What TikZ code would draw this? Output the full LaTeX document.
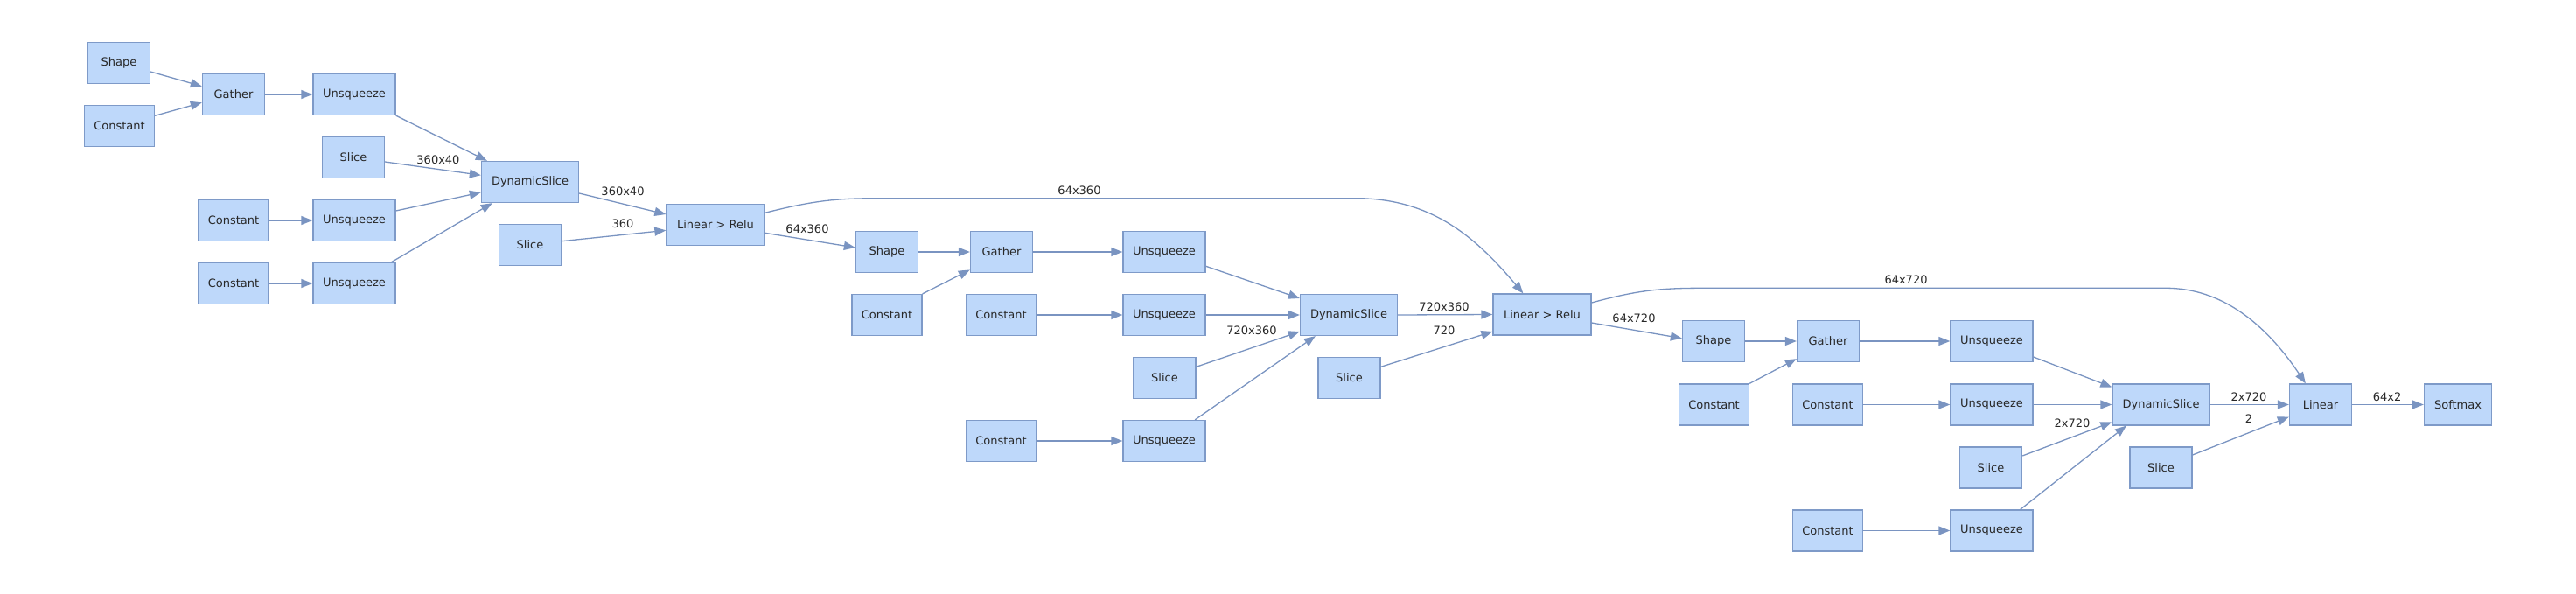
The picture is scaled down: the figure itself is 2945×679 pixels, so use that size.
\documentclass[tikz,border=0pt]{standalone}
\usepackage{fontspec}
\setmainfont{DejaVu Sans}
\usetikzlibrary{arrows.meta}
\definecolor{boxfill}{RGB}{190,216,250}
\definecolor{boxline}{RGB}{126,154,200}
\definecolor{edgecol}{RGB}{122,148,193}
\definecolor{txt}{RGB}{40,40,40}
\tikzset{
  op/.style={rectangle, draw=boxline, fill=boxfill, line width=1.3pt, minimum height=47pt, inner sep=0pt, text=txt, font=\fontsize{13}{15}\selectfont},
  w72/.style={op, minimum width=71pt},
  w78/.style={op, minimum width=77pt},
  w81/.style={op, minimum width=80pt},
  w95/.style={op, minimum width=94pt},
  w112/.style={op, minimum width=111pt},
  w113/.style={op, minimum width=112pt},
  edge/.style={draw=edgecol, line width=1.3pt, -{Triangle[length=13pt,width=10pt]}},
  lbl/.style={text=txt, inner sep=0pt, font=\fontsize{13}{15}\selectfont}
}
\begin{document}
\begin{tikzpicture}[x=1pt,y=-1pt]
\useasboundingbox (0,0) rectangle (2945,679);
% ---- section 1
\node[w72] (s1) at (136,72) {Shape};
\node[w81] (c1) at (136.5,143.7) {Constant};
\node[w72] (g1) at (267,108) {Gather};
\node[w95] (u1) at (405,108) {Unsqueeze};
\node[w72] (sl1) at (404,180) {Slice};
\node[w112] (ds1) at (606,208) {DynamicSlice};
\node[w81] (c2) at (267,252) {Constant};
\node[w95] (u2) at (405,252) {Unsqueeze};
\node[w81] (c3) at (267,324) {Constant};
\node[w95] (u3) at (405,324) {Unsqueeze};
\node[w72] (sl2) at (606,280) {Slice};
\node[w113] (lr1) at (818,257) {Linear > Relu};
% ---- section 2
\node[w72] (s2) at (1014,288) {Shape};
\node[w72] (g2) at (1145,288) {Gather};
\node[w95] (u4) at (1331,288) {Unsqueeze};
\node[w81] (c4) at (1014,360) {Constant};
\node[w81] (c5) at (1144.5,360) {Constant};
\node[w95] (u5) at (1331,360) {Unsqueeze};
\node[w112] (ds2) at (1542,360) {DynamicSlice};
\node[w113] (lr2) at (1763,359.5) {Linear > Relu};
\node[w72] (sl3) at (1331.5,432) {Slice};
\node[w72] (sl4) at (1542.5,432) {Slice};
\node[w81] (c6) at (1144.5,504) {Constant};
\node[w95] (u6) at (1331,504) {Unsqueeze};
% ---- section 3
\node[w72] (s3) at (1959,390) {Shape};
\node[w72] (g3) at (2090,390) {Gather};
\node[w95] (u7) at (2277,390) {Unsqueeze};
\node[w81] (c7) at (1959.5,462.5) {Constant};
\node[w81] (c8) at (2089.5,462.5) {Constant};
\node[w95] (u8) at (2277,462.5) {Unsqueeze};
\node[w112] (ds3) at (2470.5,462.5) {DynamicSlice};
\node[w72] (lin) at (2653,462.5) {Linear};
\node[w78] (sm) at (2810,462.5) {Softmax};
\node[w72] (sl5) at (2276,534.5) {Slice};
\node[w72] (sl6) at (2470.5,534.5) {Slice};
\node[w81] (c9) at (2089.5,606.5) {Constant};
\node[w95] (u9) at (2277,606.5) {Unsqueeze};
% ---- labels
\node[lbl] (l1) at (501,183) {360x40};
\node[lbl] (l2) at (712,219) {360x40};
\node[lbl] (l3) at (712,256) {360};
\node[lbl] (l4) at (1234,218) {64x360};
\node[lbl] (l5) at (923,262) {64x360};
\node[lbl] (l6) at (1431,378) {720x360};
\node[lbl] (l7) at (1651,351) {720x360};
\node[lbl] (l8) at (1651,378) {720};
\node[lbl] (l9) at (2179,320) {64x720};
\node[lbl] (l10) at (1868,364) {64x720};
\node[lbl] (l11) at (2369,484) {2x720};
\node[lbl] (l12) at (2571,454) {2x720};
\node[lbl] (l13) at (2571,479) {2};
\node[lbl] (l14) at (2729,454) {64x2};
% ---- edges section 1
\draw[edge] ([yshift=-10pt]s1.east) -- ([yshift=9.3pt]g1.west);
\draw[edge] ([yshift=11.4pt]c1.east) -- ([yshift=-9.3pt]g1.west);
\draw[edge] (g1.east) -- (u1.west);
\draw[edge] (u1.south east) -- ([xshift=7pt]ds1.north west);
\draw[edge] ([yshift=-5pt]sl1.east) -- ([yshift=7.7pt]ds1.west);
\draw[edge] ([yshift=11pt]u2.east) -- ([yshift=-12pt]ds1.west);
\draw[edge] ([xshift=-5.5pt]u3.north east) -- ([xshift=13pt]ds1.south west);
\draw[edge] (c2.east) -- (u2.west);
\draw[edge] (c3.east) -- (u3.west);
\draw[edge] ([yshift=-13pt]ds1.east) -- ([yshift=12pt]lr1.west);
\draw[edge] ([yshift=4.3pt]sl2.east) -- ([yshift=-6.3pt]lr1.west);
% ---- edges section 2
\draw[edge] ([yshift=-9.3pt]lr1.east) -- ([yshift=5pt]s2.west);
\draw[edge] ([yshift=13.7pt]lr1.east) .. controls (935,228) and (960,226.7) .. (1010,226.7)
  -- (1550,226.7) .. controls (1640,226.7) and (1690,275) .. ([xshift=35pt]lr2.north west);
\draw[edge] (s2.east) -- (g2.west);
\draw[edge] (c4.north east) -- ([yshift=3.7pt]g2.south west);
\draw[edge] (g2.east) -- (u4.west);
\draw[edge] ([yshift=-16.3pt]u4.east) -- ([yshift=19pt]ds2.west);
\draw[edge] (c5.east) -- (u5.west);
\draw[edge] (u5.east) -- (ds2.west);
\draw[edge] ([yshift=12.7pt]sl3.east) -- ([yshift=-19pt]ds2.west);
\draw[edge] ([xshift=-12.5pt]u6.north east) -- ([xshift=18pt]ds2.south west);
\draw[edge] (c6.east) -- (u6.west);
\draw[edge] (ds2.east) -- (lr2.west);
\draw[edge] ([yshift=12.7pt]sl4.east) -- ([yshift=-19.5pt]lr2.west);
% ---- edges section 3
\draw[edge] ([yshift=-9.5pt]lr2.east) -- ([yshift=3.3pt]s3.west);
\draw[edge] ([yshift=13.5pt]lr2.east) .. controls (1875,331) and (1900,329.3) .. (1950,329.3)
  -- (2476,329.3) .. controls (2540,329.3) and (2590,370) .. ([xshift=19pt]lin.north west);
\draw[edge] (s3.east) -- (g3.west);
\draw[edge] (c7.north east) -- ([yshift=4pt]g3.south west);
\draw[edge] (g3.east) -- (u7.west);
\draw[edge] ([yshift=-18pt]u7.east) -- ([yshift=20pt]ds3.west);
\draw[edge] (c8.east) -- (u8.west);
\draw[edge] (u8.east) -- (ds3.west);
\draw[edge] ([yshift=13.5pt]sl5.east) -- ([yshift=-20pt]ds3.west);
\draw[edge] ([xshift=-15pt]u9.north east) -- ([xshift=16.5pt]ds3.south west);
\draw[edge] (c9.east) -- (u9.west);
\draw[edge] (ds3.east) -- (lin.west);
\draw[edge] ([yshift=14.5pt]sl6.east) -- ([yshift=-14pt]lin.west);
\draw[edge] (lin.east) -- (sm.west);
\end{tikzpicture}
\end{document}
